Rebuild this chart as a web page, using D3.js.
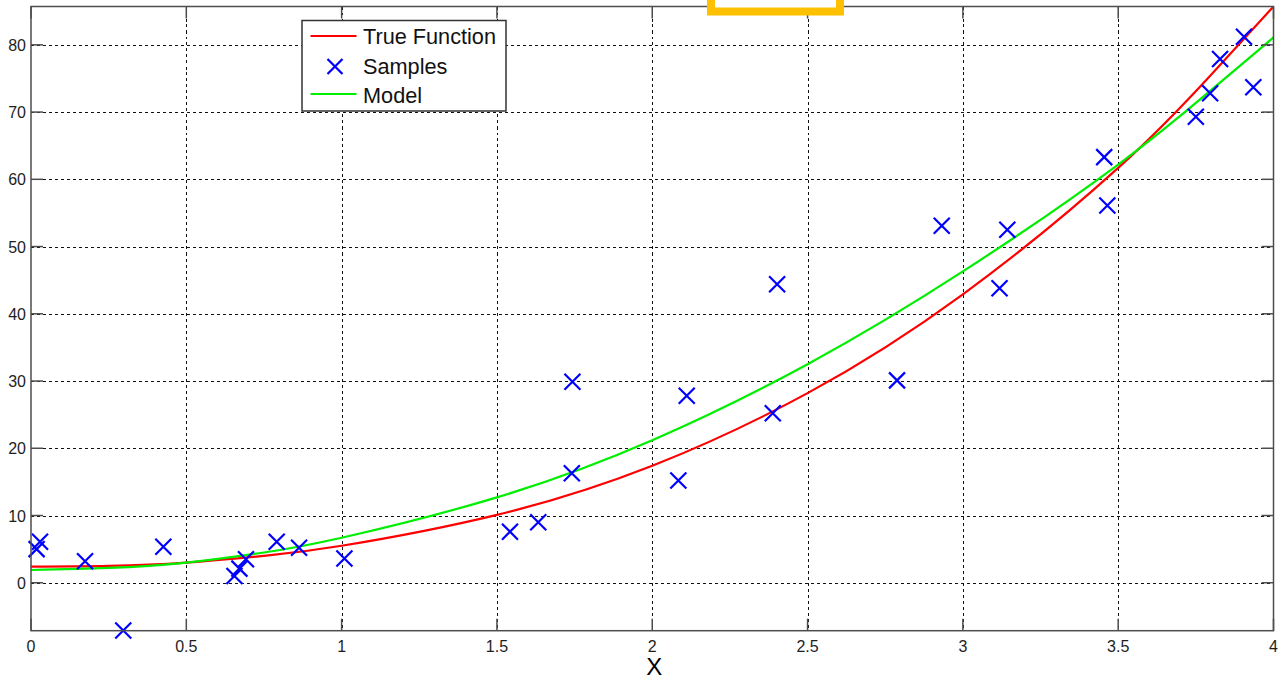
<!DOCTYPE html>
<html>
<head>
<meta charset="utf-8">
<script src="https://cdn.jsdelivr.net/npm/d3@7"></script>
<style>
  html, body { margin: 0; padding: 0; background: #fff; }
  svg { display: block; }
</style>
</head>
<body>
<script>
// Sample observations (x, y)
const sampleX = [0.018, 0.029, 0.174, 0.297, 0.426, 0.655, 0.671, 0.692, 0.791, 0.863, 1.009,
                 1.542, 1.633, 1.741, 1.743, 2.084, 2.111, 2.388, 2.402, 2.788, 2.932, 3.118,
                 3.143, 3.455, 3.465, 3.750, 3.796, 3.828, 3.905, 3.935];
const sampleY = [5.0, 6.1, 3.2, -7.1, 5.35, 1.0, 2.1, 3.5, 6.1, 5.2, 3.6,
                 7.6, 9.0, 16.3, 29.9, 15.2, 27.8, 25.2, 44.4, 30.1, 53.1, 43.8,
                 52.5, 63.3, 56.1, 69.3, 72.8, 77.9, 81.2, 73.7];

// Curves sampled along x
const curveX     = [0, 0.25, 0.5, 0.75, 1, 1.5, 2, 2.5, 3, 3.5, 3.8, 4];
const trueFnY    = [2.4, 2.5, 3.0, 4.0, 5.5, 10.1, 17.4, 28.2, 42.9, 61.7, 75.6, 85.7];
const modelY     = [1.9, 2.2, 3.0, 4.5, 6.7, 12.7, 21.2, 32.5, 46.3, 62.2, 73.3, 81.1];

// Axis ticks
const xTicks = [0, 0.5, 1, 1.5, 2, 2.5, 3, 3.5, 4];
const xTickLabels = ["0", "0.5", "1", "1.5", "2", "2.5", "3", "3.5", "4"];
const yTicks = [0, 10, 20, 30, 40, 50, 60, 70, 80];
const yTickLabels = ["0", "10", "20", "30", "40", "50", "60", "70", "80"];

const legendItems = ["True Function", "Samples", "Model"];

const W = 1281, H = 680;
const plotL = 31, plotR = 1273.5, plotT = 6.5, plotB = 630.7;

const svg = d3.select("body").append("svg")
  .attr("width", W).attr("height", H)
  .style("font-family", "'Liberation Sans', Arial, sans-serif");

const x = d3.scaleLinear().domain([0, 4]).range([plotL, plotR]);
const y = d3.scaleLinear().domain([-7.13, 85.7]).range([plotB, plotT]);

const axisColor = "#4d4d4d";
const textColor = "#1e1e1e";

// Grid
const grid = svg.append("g").attr("stroke", "#111").attr("stroke-width", 1)
  .attr("stroke-dasharray", "3,3").attr("shape-rendering", "crispEdges");
grid.selectAll("line.gx").data(xTicks.slice(1, -1)).join("line")
  .attr("x1", d => Math.round(x(d)) + 0.5).attr("x2", d => Math.round(x(d)) + 0.5)
  .attr("y1", plotT).attr("y2", plotB);
grid.selectAll("line.gy").data(yTicks).join("line")
  .attr("y1", d => Math.round(y(d)) + 0.5).attr("y2", d => Math.round(y(d)) + 0.5)
  .attr("x1", plotL).attr("x2", plotR);

// Clip
svg.append("clipPath").attr("id", "plotclip").append("rect")
  .attr("x", plotL).attr("y", plotT).attr("width", plotR - plotL).attr("height", plotB - plotT);

const line = d3.line().curve(d3.curveNatural);
const plot = svg.append("g").attr("clip-path", "url(#plotclip)");

plot.append("path")
  .attr("d", line(curveX.map((d, i) => [x(d), y(trueFnY[i])])))
  .attr("fill", "none").attr("stroke", "#ff0000").attr("stroke-width", 2.2);

plot.append("path")
  .attr("d", line(curveX.map((d, i) => [x(d), y(modelY[i])])))
  .attr("fill", "none").attr("stroke", "#00ee00").attr("stroke-width", 2.2);

// Sample markers drawn as x shapes
const cross = (cx, cy, r) => `M${cx - r},${cy - r}L${cx + r},${cy + r}M${cx - r},${cy + r}L${cx + r},${cy - r}`;
svg.append("g").selectAll("path").data(sampleX).join("path")
  .attr("d", (d, i) => cross(x(d), y(sampleY[i]), 8))
  .attr("fill", "none").attr("stroke", "#0000ff").attr("stroke-width", 2.2);

// Axes box
const tickLen = 12;
const axes = svg.append("g").attr("stroke", axisColor).attr("stroke-width", 1.5);
axes.append("rect").attr("x", plotL).attr("y", plotT)
  .attr("width", plotR - plotL).attr("height", plotB - plotT).attr("fill", "none");
xTicks.forEach(t => {
  const px = x(t);
  axes.append("line").attr("x1", px).attr("x2", px).attr("y1", plotB).attr("y2", plotB - tickLen);
  axes.append("line").attr("x1", px).attr("x2", px).attr("y1", plotT).attr("y2", plotT + tickLen);
});
yTicks.forEach(t => {
  const py = y(t);
  axes.append("line").attr("y1", py).attr("y2", py).attr("x1", plotL).attr("x2", plotL + tickLen);
  axes.append("line").attr("y1", py).attr("y2", py).attr("x1", plotR).attr("x2", plotR - tickLen);
});

// Tick labels
svg.append("g").selectAll("text").data(xTicks).join("text")
  .attr("x", d => x(d)).attr("y", plotB + 21)
  .attr("text-anchor", "middle").attr("font-size", 16).attr("fill", textColor)
  .text((d, i) => xTickLabels[i]);
svg.append("g").selectAll("text").data(yTicks).join("text")
  .attr("x", plotL - 5).attr("y", d => y(d) + 6)
  .attr("text-anchor", "end").attr("font-size", 16).attr("fill", textColor)
  .text((d, i) => yTickLabels[i]);

// Axis label
svg.append("text").attr("x", (plotL + plotR) / 2 + 2).attr("y", 675)
  .attr("text-anchor", "middle").attr("font-size", 24).attr("fill", "#000").text("X");

// Legend
const lg = svg.append("g");
lg.append("rect").attr("x", 302).attr("y", 20.5).attr("width", 204).attr("height", 90.5)
  .attr("fill", "#fff").attr("stroke", "#333").attr("stroke-width", 1.5);
const rowY = [36, 66.5, 95];
lg.append("line").attr("x1", 310.5).attr("x2", 356.5).attr("y1", rowY[0]).attr("y2", rowY[0])
  .attr("stroke", "#ff0000").attr("stroke-width", 2.2);
lg.append("path").attr("d", cross(335, rowY[1], 7.5))
  .attr("fill", "none").attr("stroke", "#0000ff").attr("stroke-width", 2.2);
lg.append("line").attr("x1", 310.5).attr("x2", 356.5).attr("y1", rowY[2] - 1).attr("y2", rowY[2] - 1)
  .attr("stroke", "#00ee00").attr("stroke-width", 2.2);
lg.selectAll("text").data(legendItems).join("text")
  .attr("x", 363).attr("y", (d, i) => rowY[i] + 7.5)
  .attr("font-size", 21.7).attr("fill", "#111").text(d => d);

// Highlight frame at the top edge
svg.append("rect").attr("x", 711).attr("y", -20).attr("width", 129).attr("height", 31.5)
  .attr("fill", "#fff").attr("stroke", "#ffc000").attr("stroke-width", 8);
</script>
</body>
</html>
